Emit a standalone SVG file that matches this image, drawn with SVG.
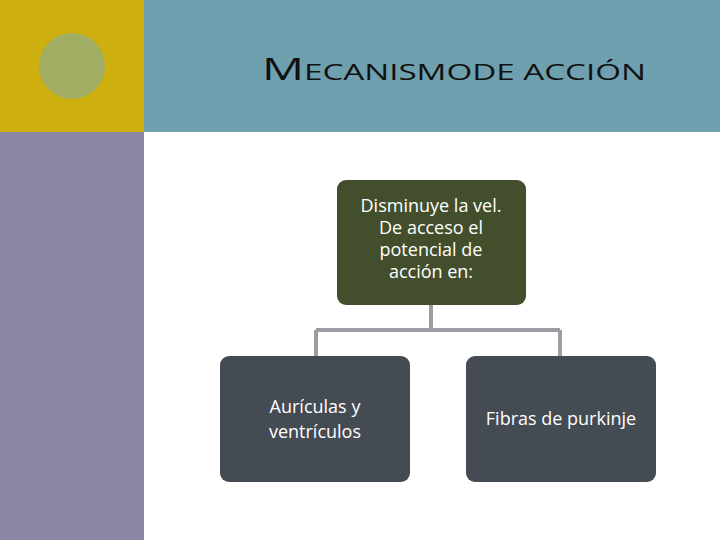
<svg xmlns="http://www.w3.org/2000/svg" width="720" height="540" viewBox="0 0 720 540">
<style>
.t{font-family:"Open Sans","DejaVu Sans",sans-serif;font-size:18px;fill:#fff;text-anchor:middle}
.c{stroke:#9a9ea3;stroke-width:4;fill:none}
</style>
<rect width="720" height="540" fill="#fff"/>
<rect x="0" y="0" width="144" height="132" fill="#cdaf10"/>
<rect x="0" y="132" width="144" height="408" fill="#8b88a6"/>
<rect x="144" y="0" width="576" height="132" fill="#6fa0b0"/>
<circle cx="72" cy="66" r="33" fill="#a1ad62"/>
<text x="262" y="80" font-family="'Open Sans','DejaVu Sans',sans-serif" font-size="22" fill="#111" textLength="384" lengthAdjust="spacingAndGlyphs"><tspan font-size="31">M</tspan>ECANISMODE ACCIÓN</text>
<g id="connectors">
<path class="c" d="M431 305V330M316 330H560M316 330V356M560 330V356"/>
</g>
<g id="n1"><rect x="337" y="180" width="189" height="125" rx="9" fill="#434f2c"/>
<text class="t" x="431" y="212">Disminuye la vel.<tspan x="431" dy="22">De acceso el</tspan><tspan x="431" dy="22">potencial de</tspan><tspan x="431" dy="22">acción en:</tspan></text></g>
<g id="n2"><rect x="220" y="356" width="190" height="126" rx="9" fill="#454b53"/>
<text class="t" x="315" y="413">Aurículas y<tspan x="315" dy="25">ventrículos</tspan></text></g>
<g id="n3"><rect x="466" y="356" width="190" height="126" rx="9" fill="#454b53"/>
<text class="t" x="561" y="425">Fibras de purkinje</text></g>
</svg>
